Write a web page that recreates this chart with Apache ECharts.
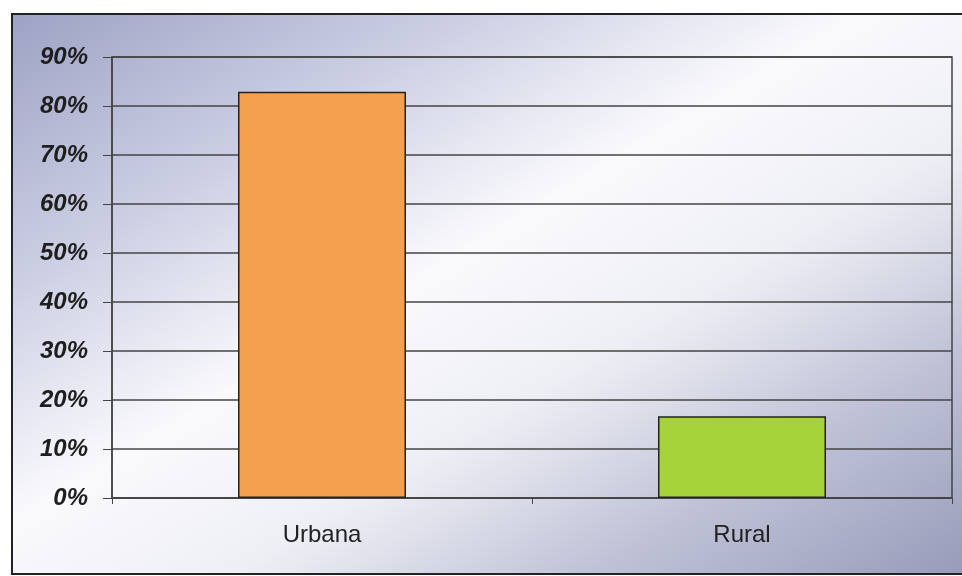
<!DOCTYPE html>
<html>
<head>
<meta charset="utf-8">
<script src="https://cdn.jsdelivr.net/npm/echarts@6/dist/echarts.min.js"></script>
<style>
  html, body { margin: 0; padding: 0; background: #ffffff; }
  #chart { width: 962px; height: 576px; }
</style>
</head>
<body>
<div id="chart"></div>
<script>
// Data
const categories = ['Urbana', 'Rural']
const shares = [82.9, 16.7]
const barColors = ['#f5a04e', '#a6d23a']

const chart = echarts.init(document.getElementById('chart'))

// diagonal wash: bluish top-left, white across the middle, bluish bottom-right
const bgFill = new echarts.graphic.LinearGradient(0, 0, 508, 848, [
  { offset: 0, color: '#9a9fc2' },
  { offset: 0.26, color: '#cdd0e4' },
  { offset: 0.46, color: '#fafafd' },
  { offset: 0.62, color: '#eeeff5' },
  { offset: 0.8, color: '#c0c3d7' },
  { offset: 1, color: '#979bb9' }
], true)

const option = {
  animation: false,
  backgroundColor: '#ffffff',
  graphic: [
    {
      type: 'rect',
      z: -100,
      silent: true,
      shape: { x: 12, y: 14, width: 980, height: 560 },
      style: { fill: bgFill, stroke: '#222', lineWidth: 2 }
    }
  ],
  grid: {
    left: 112,
    right: 10,
    top: 57,
    bottom: 78,
    show: true,
    borderColor: '#444',
    borderWidth: 1.5
  },
  xAxis: {
    type: 'category',
    data: categories,
    axisLine: { lineStyle: { color: '#444', width: 1.5 } },
    axisTick: { show: true, length: 6, lineStyle: { color: '#444' } },
    axisLabel: {
      margin: 25,
      fontFamily: 'Liberation Sans, Arial, sans-serif',
      fontSize: 24,
      color: '#222'
    }
  },
  yAxis: {
    type: 'value',
    min: 0,
    max: 90,
    interval: 10,
    axisLine: { show: true, lineStyle: { color: '#444', width: 1.5 } },
    axisTick: { show: true, length: 9, lineStyle: { color: '#444' } },
    axisLabel: {
      formatter: '{value}%',
      margin: 24,
      fontFamily: 'Liberation Sans, Arial, sans-serif',
      fontSize: 24,
      fontWeight: 'bold',
      fontStyle: 'italic',
      color: '#1e1e1e'
    },
    splitLine: { lineStyle: { color: '#444', width: 1.5 } }
  },
  series: [
    {
      type: 'bar',
      data: shares.map((v, i) => ({
        value: v,
        itemStyle: { color: barColors[i] }
      })),
      barWidth: '40%',
      itemStyle: { borderColor: '#222', borderWidth: 1.5 }
    }
  ]
}

chart.setOption(option)
</script>
</body>
</html>
